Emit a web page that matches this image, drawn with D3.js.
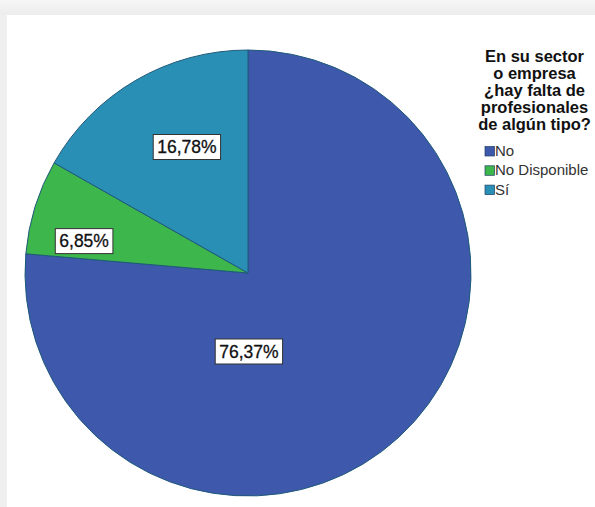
<!DOCTYPE html>
<html>
<head>
<meta charset="utf-8">
<script src="https://cdn.jsdelivr.net/npm/d3@7/dist/d3.min.js"></script>
<style>
  html, body { margin: 0; padding: 0; background: #ffffff; }
  svg { display: block; }
</style>
</head>
<body>
<svg id="chart" width="595" height="507"></svg>
<script>
// ---- data ----
const categories = ["No", "No Disponible", "Sí"];
const percents = [76.37, 6.85, 16.78];
const percentLabels = ["76,37%", "6,85%", "16,78%"];
const colors = ["#3e58ac", "#3db64b", "#2a8fb4"];
const legendTitle = ["En su sector", "o empresa", "¿hay falta de", "profesionales", "de algún tipo?"];

// ---- layout ----
const W = 595, H = 507;
const cx = 248, cy = 273, R = 223;
// label offsets from pie centre, as fractions of the radius
const labelOffsets = [[0.004, 0.352], [-0.735, -0.143], [-0.274, -0.565]];

const svg = d3.select("#chart");

// frame background
const defs = svg.append("defs");
const g1 = defs.append("linearGradient").attr("id", "topgrad").attr("x1", 0).attr("y1", 0).attr("x2", 0).attr("y2", 1);
g1.append("stop").attr("offset", "0%").attr("stop-color", "#f6f6f6");
g1.append("stop").attr("offset", "100%").attr("stop-color", "#ececec");
svg.append("rect").attr("x", 0).attr("y", 0).attr("width", W).attr("height", H).attr("fill", "#efefef");
svg.append("rect").attr("x", 0).attr("y", 0).attr("width", W).attr("height", 15).attr("fill", "url(#topgrad)");
svg.append("rect").attr("x", 7).attr("y", 15).attr("width", W - 7).attr("height", H - 15).attr("fill", "#ffffff");

// pie
const pie = d3.pie().sort(null).value(d => d)(percents);
const arc = d3.arc().innerRadius(0).outerRadius(R);
const gp = svg.append("g").attr("transform", `translate(${cx},${cy})`);
gp.selectAll("path").data(pie).join("path")
  .attr("d", arc)
  .attr("fill", (d, i) => colors[i])
  .attr("stroke", "#1f5a7a")
  .attr("stroke-width", 1)
  .attr("stroke-linejoin", "round");

// value labels
const fontFam = "'Liberation Sans', Arial, Helvetica, sans-serif";
pie.forEach((d, i) => {
  const lx = labelOffsets[i][0] * R, ly = labelOffsets[i][1] * R;
  const g = gp.append("g").attr("transform", `translate(${lx},${ly})`);
  const t = g.append("text")
    .attr("text-anchor", "middle")
    .attr("dy", "0.36em")
    .attr("font-family", fontFam)
    .attr("font-size", 17.5)
    .attr("fill", "#111")
    .attr("stroke", "#111").attr("stroke-width", 0.3)
    .text(percentLabels[i]);
  const bb = t.node().getBBox();
  g.insert("rect", "text")
    .attr("x", -bb.width / 2 - 4)
    .attr("y", -12.5)
    .attr("width", bb.width + 8)
    .attr("height", 25)
    .attr("fill", "#ffffff")
    .attr("stroke", "#333")
    .attr("stroke-width", 1);
});

// legend title
const tx = 534.5;
svg.append("g").selectAll("text").data(legendTitle).join("text")
  .attr("x", tx)
  .attr("y", (d, i) => 62 + i * 17)
  .attr("text-anchor", "middle")
  .attr("font-family", fontFam)
  .attr("font-weight", "bold")
  .attr("font-size", 16.5)
  .attr("fill", "#111")
  .text(d => d);

// legend items
const lg = svg.append("g");
categories.forEach((c, i) => {
  const y = 156 + i * 19.3;
  lg.append("rect")
    .attr("x", 485).attr("y", y - 9.5)
    .attr("width", 9.5).attr("height", 9.5)
    .attr("fill", colors[i])
    .attr("stroke", "#1f3f66").attr("stroke-width", 0.7);
  lg.append("text")
    .attr("x", 495).attr("y", y)
    .attr("font-family", fontFam)
    .attr("font-size", 15)
    .attr("fill", "#333")
    .text(c);
});
</script>
</body>
</html>
